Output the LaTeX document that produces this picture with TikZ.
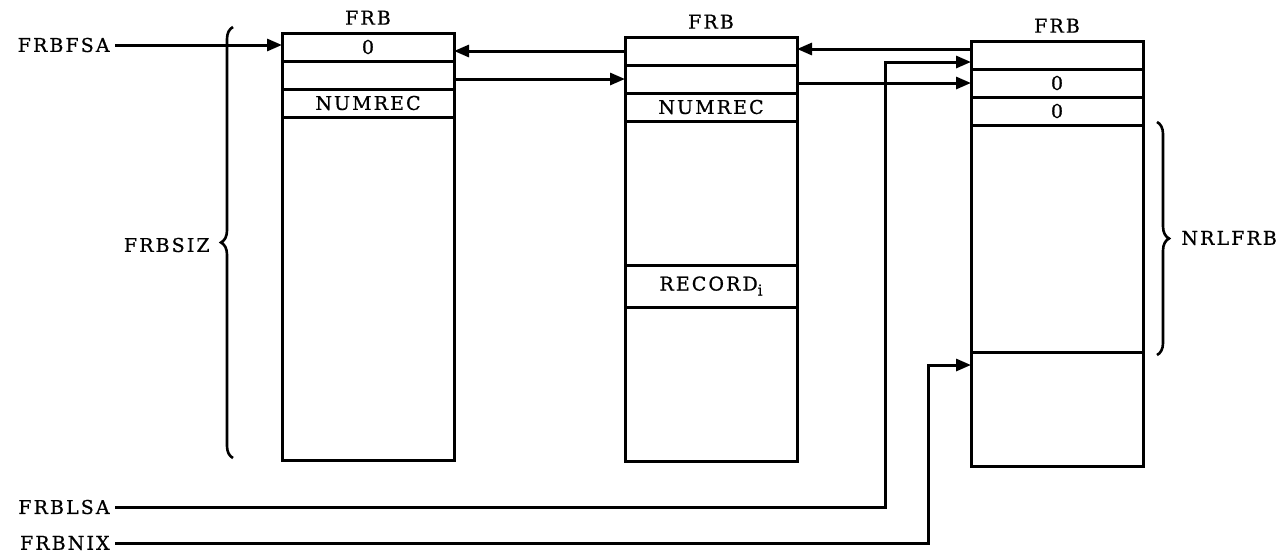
\documentclass[tikz,border=0pt]{standalone}
\usepackage{fontspec}
\setmainfont{DejaVu Serif}[LetterSpace=11, FakeBold=0.8]
\usetikzlibrary{arrows.meta, positioning, decorations.pathreplacing}

\begin{document}
\begin{tikzpicture}[x=0.5pt, y=-0.5pt,
        fld/.style={draw, line width=1.5pt, minimum width=86pt, minimum height=14pt,
                    inner sep=0pt, outer sep=0pt, font=\fontsize{9.5}{10}\selectfont},
        ttl/.style={font=\fontsize{9.5}{10}\selectfont, inner sep=1pt},
        rot/.style={font=\fontsize{9.5}{10}\selectfont, inner sep=2.5pt},
        ptr/.style={-{Triangle[length=7.5pt,width=6pt]}, line width=1.5pt},
        chave/.style={decorate, decoration={brace, amplitude=6pt}, line width=1.3pt}
    ]
    \useasboundingbox (0,0) rectangle (1288,552);
    % Bloco 1: primeiro FRB
    \node[fld, anchor=north] (f1ant) at (368,33) {0};
    \node[fld, below=0pt of f1ant] (f1prox) {};
    \node[fld, below=0pt of f1prox] (f1num) {NUMREC};
    \node[fld, below=0pt of f1num, minimum height=171.5pt] (f1corpo) {};
    \node[ttl, above=3pt of f1ant] (t1) {FRB};
    % Bloco 2: FRB do meio
    \node[fld, anchor=north] (f2ant) at (711,37) {};
    \node[fld, below=0pt of f2ant] (f2prox) {};
    \node[fld, below=0pt of f2prox] (f2num) {NUMREC};
    \node[fld, below=0pt of f2num, minimum height=72pt] (f2corpo) {};
    \node[fld, below=0pt of f2corpo, minimum height=21pt] (f2rec) {RECORD\raisebox{-2.5pt}{\fontsize{7.5}{8}\selectfont i}};
    \node[fld, below=0pt of f2rec, minimum height=77pt] (f2resto) {};
    \node[ttl, above=3pt of f2ant] (t2) {FRB};
    % Bloco 3: ultimo FRB
    \node[fld, anchor=north] (f3ant) at (1057,41) {};
    \node[fld, below=0pt of f3ant] (f3prox) {0};
    \node[fld, below=0pt of f3prox] (f3num) {0};
    \node[fld, below=0pt of f3num, minimum height=113.5pt] (f3livre) {};
    \node[fld, below=0pt of f3livre, minimum height=57pt] (f3fim) {};
    \node[ttl, above=3pt of f3ant] (t3) {FRB};
    % Rotulos
    \node[rot, anchor=east] (fsa) at (115,45) {FRBFSA};
    \node[rot, anchor=east] (lsa) at (115,507) {FRBLSA};
    \node[rot, anchor=east] (nix) at (115,543) {FRBNIX};
    \node[rot, anchor=east] (siz) at (215,245) {FRBSIZ};
    \node[rot, anchor=west] (nrl) at (1176,238) {NRLFRB};
    \coordinate (sizb) at (233,458);
    \coordinate (sizt) at (233,27);
    \coordinate (nrlt) at (1157,122);
    \coordinate (nrlb) at (1157,355);
    \draw[chave] (sizb) -- (sizt);
    \draw[chave] (nrlt) -- (nrlb);
    % Ponteiros
    \coordinate (e3) at ([yshift=3pt]f3ant.west);
    \coordinate (l3) at ([yshift=-3.5pt]f3ant.west);
    \coordinate (n3) at ([yshift=-6.5pt]f3fim.north west);
    \draw[ptr] (fsa.east) -- (fsa.east -| f1ant.west);
    \draw[ptr] (f2ant.west) -- (f2ant.west -| f1ant.east);
    \draw[ptr] (f2prox.west -| f1prox.east) -- (f2prox.west);
    \draw[ptr] (e3) -- (e3 -| f2ant.east);
    \draw[ptr] (f3prox.west -| f2prox.east) -- (f3prox.west);
    \draw[ptr] (lsa.east) -| ([xshift=-43pt]l3) -- (l3);
    \draw[ptr] (nix.east) -| ([xshift=-21.5pt]n3) -- (n3);
\end{tikzpicture}
\end{document}
